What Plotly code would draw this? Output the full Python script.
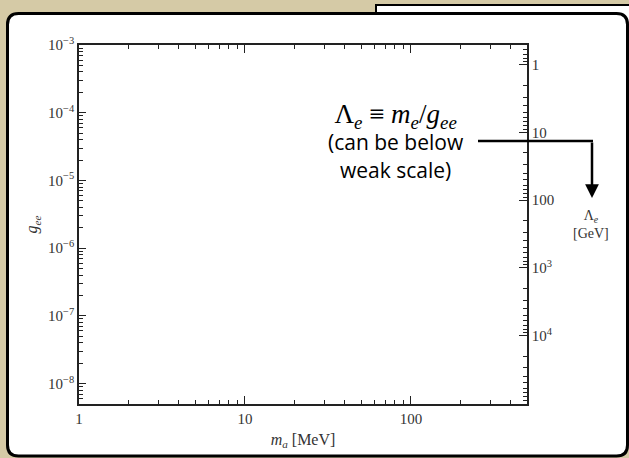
import math
import plotly.graph_objects as go

# ---- data / axis definitions ----
ma_range = [1, 500]            # MeV (x axis)
gee_range = [5e-9, 1e-3]       # g_ee (left axis)
m_e_GeV = 5.11e-4              # electron mass in GeV, Lambda_e = m_e / g_ee

x_tickvals = [1, 10, 100]
x_ticktext = ["1", "10", "100"]
g_tickvals = [1e-3, 1e-4, 1e-5, 1e-6, 1e-7, 1e-8]
g_ticktext = ["10<sup>−3</sup>", "10<sup>−4</sup>", "10<sup>−5</sup>",
              "10<sup>−6</sup>", "10<sup>−7</sup>", "10<sup>−8</sup>"]
lam_tickvals = [1, 10, 100, 1e3, 1e4]
lam_ticktext = ["1", "10", "100", "10<sup>3</sup>", "10<sup>4</sup>"]

lam_range = [m_e_GeV / gee_range[0], m_e_GeV / gee_range[1]]


def minor_vals(lo_exp, hi_exp):
    return [k * 10 ** e for e in range(lo_exp, hi_exp + 1) for k in range(2, 10)]


W, H = 629, 458
L, R, T, B = 79, 527, 45, 404


def px(x):
    return (x - L) / (R - L)


def py(y):
    return (B - y) / (B - T)


def rounded_path(x0, y0, x1, y1, r):
    pts = []
    pts.append(f"M {px(x0 + r)},{py(y0)}")
    pts.append(f"L {px(x1 - r)},{py(y0)}")
    pts.append(f"Q {px(x1)},{py(y0)} {px(x1)},{py(y0 + r)}")
    pts.append(f"L {px(x1)},{py(y1 - r)}")
    pts.append(f"Q {px(x1)},{py(y1)} {px(x1 - r)},{py(y1)}")
    pts.append(f"L {px(x0 + r)},{py(y1)}")
    pts.append(f"Q {px(x0)},{py(y1)} {px(x0)},{py(y1 - r)}")
    pts.append(f"L {px(x0)},{py(y0 + r)}")
    pts.append(f"Q {px(x0)},{py(y0)} {px(x0 + r)},{py(y0)}")
    pts.append("Z")
    return " ".join(pts)


fig = go.Figure()
# empty traces to instantiate every axis
fig.add_trace(go.Scatter(x=[], y=[], xaxis="x", yaxis="y", showlegend=False))
fig.add_trace(go.Scatter(x=[], y=[], xaxis="x", yaxis="y2", showlegend=False))
fig.add_trace(go.Scatter(x=[], y=[], xaxis="x2", yaxis="y3", showlegend=False))
fig.add_trace(go.Scatter(x=[], y=[], xaxis="x2", yaxis="y4", showlegend=False))

tickfont = dict(family="Liberation Serif", size=15, color="#333")
axcol = "#222"
xr = [math.log10(ma_range[0]), math.log10(ma_range[1])]
gr = [math.log10(gee_range[0]), math.log10(gee_range[1])]
lr = [math.log10(lam_range[0]), math.log10(lam_range[1])]

fig.update_layout(
    width=W, height=H,
    margin=dict(l=L, r=W - R, t=T, b=H - B, pad=0),
    paper_bgcolor="#d5caa6",
    plot_bgcolor="white",
    showlegend=False,
    xaxis=dict(
        type="log", range=xr,
        tickmode="array", tickvals=x_tickvals, ticktext=x_ticktext,
        ticks="inside", ticklen=8, tickwidth=1.2, tickcolor=axcol,
        showline=True, linecolor=axcol, linewidth=1.5, mirror="ticks",
        showgrid=False, zeroline=False, tickfont=tickfont,
        title=dict(text="<i>m<sub>a</sub></i> [MeV]",
                   font=dict(family="Liberation Serif", size=16, color="#333"),
                   standoff=8),
    ),
    xaxis2=dict(
        type="log", range=xr, overlaying="x", anchor="y", side="bottom",
        tickmode="array", tickvals=minor_vals(0, 2), showticklabels=False,
        ticks="inside", ticklen=4, tickwidth=1.2, tickcolor=axcol,
        showline=False, mirror="ticks", showgrid=False, zeroline=False,
    ),
    yaxis=dict(
        type="log", range=gr,
        tickmode="array", tickvals=g_tickvals, ticktext=g_ticktext,
        ticks="inside", ticklen=7, tickwidth=1.2, tickcolor=axcol,
        showline=True, linecolor=axcol, linewidth=1.5, mirror=False,
        showgrid=False, zeroline=False, tickfont=tickfont,
        title=dict(text="<i>g<sub>ee</sub></i>",
                   font=dict(family="Liberation Serif", size=16, color="#333"),
                   standoff=6),
    ),
    yaxis3=dict(
        type="log", range=gr, overlaying="y", anchor="x", side="left",
        tickmode="array", tickvals=minor_vals(-9, -4), showticklabels=False,
        ticks="inside", ticklen=4, tickwidth=1.2, tickcolor=axcol,
        showline=False, showgrid=False, zeroline=False,
    ),
    yaxis2=dict(
        type="log", overlaying="y", side="right", anchor="x", range=lr,
        tickmode="array", tickvals=lam_tickvals, ticktext=lam_ticktext,
        ticks="inside", ticklen=8, tickwidth=1.2, tickcolor=axcol,
        showline=True, linecolor=axcol, linewidth=1.5,
        showgrid=False, zeroline=False, tickfont=tickfont,
    ),
    yaxis4=dict(
        type="log", overlaying="y", side="right", anchor="x", range=lr,
        tickmode="array", tickvals=minor_vals(-1, 4), showticklabels=False,
        ticks="inside", ticklen=4, tickwidth=1.2, tickcolor=axcol,
        showline=False, showgrid=False, zeroline=False,
    ),
)

shapes = [
    dict(type="rect", xref="paper", yref="paper", layer="below",
         x0=px(376), x1=px(660), y0=py(5), y1=py(60),
         fillcolor="white", line=dict(color="black", width=2)),
    dict(type="path", xref="paper", yref="paper", layer="below",
         path=rounded_path(7.5, 13.5, 627.5, 456, 11),
         fillcolor="white", line=dict(color="black", width=3)),
    dict(type="line", xref="paper", yref="paper", layer="above",
         x0=px(478), x1=px(593), y0=py(141), y1=py(141),
         line=dict(color="black", width=2.5)),
]
fig.update_layout(shapes=shapes)

fig.add_annotation(
    xref="paper", yref="paper", x=px(592), y=py(198),
    axref="pixel", ayref="pixel", ax=0, ay=-57,
    text="", showarrow=True, arrowhead=2, arrowsize=1.1, arrowwidth=2.5,
    arrowcolor="black", standoff=0,
)
fig.add_annotation(
    xref="paper", yref="paper", x=px(396), y=py(141),
    text=("<span style=\"font-family:Liberation Serif;font-size:27px\">Λ<sub><i>e</i></sub> ≡ "
          "<i>m<sub>e</sub></i>/<i>g<sub>ee</sub></i></span><br>"
          "(can be below<br>weak scale)"),
    showarrow=False, align="center", xanchor="center", yanchor="middle",
    font=dict(family="Open Sans", size=21, color="black"),
)
fig.add_annotation(
    xref="paper", yref="paper", x=px(591), y=py(224),
    text="Λ<sub><i>e</i></sub><br>[GeV]", showarrow=False, align="center",
    xanchor="center", yanchor="middle",
    font=dict(family="Liberation Serif", size=14, color="#333"),
)

fig.write_html(
    "out.html",
    config={"displayModeBar": False},
    post_script="document.body.style.margin='0';document.body.style.overflow='hidden';",
)
